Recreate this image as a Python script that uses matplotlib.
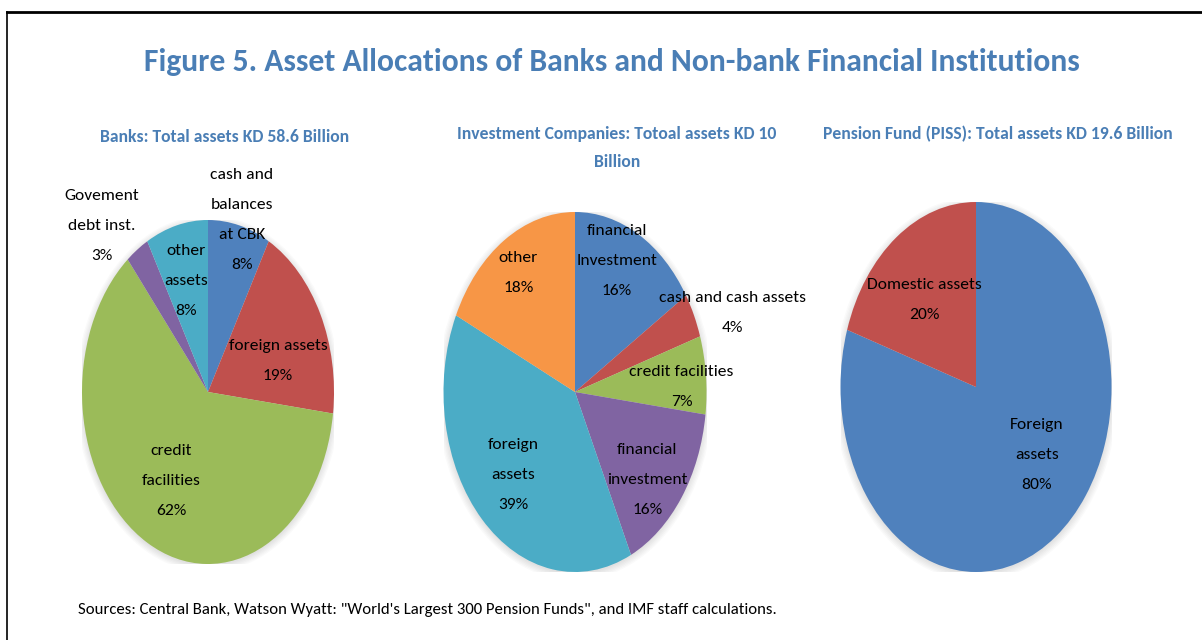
import numpy as np
import matplotlib
matplotlib.use('Agg')
import matplotlib.pyplot as plt
from matplotlib.lines import Line2D
from matplotlib.patches import Ellipse

plt.rcParams['font.family'] = ['Carlito', 'DejaVu Sans']

#########################################
# data
bank_labels = ['cash and\nbalances\nat CBK', 'foreign assets', 'credit\nfacilities',
               'Govement\ndebt inst.', 'other\nassets']
bank_values = [8, 19, 62, 3, 8]

inv_labels = ['financial\nInvestment', 'cash and cash assets', 'credit facilities',
              'financial\ninvestment', 'foreign\nassets', 'other']
inv_values = [16, 4, 7, 16, 39, 18]

pen_labels = ['Foreign\nassets', 'Domestic assets']
pen_values = [80, 20]

titles = ['Banks: Total assets KD 58.6 Billion',
          'Investment Companies: Totoal assets KD 10\nBillion',
          'Pension Fund (PISS): Total assets KD 19.6 Billion']

#########################################
# excel 2007 palette
colors = ['#4F81BD', '#C0504D', '#9BBB59', '#8064A2', '#4BACC6', '#F79646']
blue_txt = '#4A7EB5'

W, H = 1202, 640
fig = plt.figure(figsize=(W / 100, H / 100), dpi=100)

# label spots (x, y) in unit-pie coordinates
bank_pos = [(0.27, 1.0), (0.556, 0.18), (-0.29, -0.52), (-0.84, 0.965), (-0.175, 0.645)]
inv_pos = [(0.32, 0.73), (1.2, 0.44), (0.81, 0.03), (0.55, -0.49), (-0.47, -0.46), (-0.43, 0.66)]
pen_pos = [(0.45, -0.37), (-0.38, 0.47)]

# pie centres and radii in pixels
pies = [
    (208, 392, 126, 172, bank_values, bank_labels, bank_pos),
    (575, 392, 131.5, 180, inv_values, inv_labels, inv_pos),
    (976, 387, 135.5, 185, pen_values, pen_labels, pen_pos),
]

def MakePie(cx, cy, rx, ry, values, labels, pos):
    ax = fig.add_axes([(cx - rx) / W, (H - cy - ry) / H, 2 * rx / W, 2 * ry / H])
    # soft shadow
    for k in range(6):
        e = Ellipse((0.0, -0.01), 2 + 0.02 * k, 2 + 0.02 * k * rx / ry,
                    color='black', alpha=0.018, lw=0, zorder=0)
        ax.add_patch(e)
    ax.pie(values, colors=colors[:len(values)], startangle=90, counterclock=False,
           radius=1.0, wedgeprops=dict(linewidth=0))
    ax.set_aspect('auto')
    ax.set_xlim(-1, 1)
    ax.set_ylim(-1, 1)
    ax.axis('off')
    for lab, val, (px, py) in zip(labels, values, pos):
        ax.text(px, py, '{}\n{}%'.format(lab, val), ha='center', va='center',
                multialignment='center', fontsize=12.6, linespacing=2.45,
                color='black', clip_on=False)
    return ax

for p in pies:
    MakePie(*p)

fig.text(612 / W, 1 - 62 / H, 'Figure 5. Asset Allocations of Banks and Non-bank Financial Institutions',
         ha='center', va='center', fontsize=22.8, fontweight='bold', color=blue_txt)

sub_x = [225, 617, 998]
sub_y = [137, 148, 134]
for t, sx, sy in zip(titles, sub_x, sub_y):
    fig.text(sx / W, 1 - sy / H, t, ha='center', va='center', multialignment='center',
             fontsize=12.7, fontweight='bold', color=blue_txt, linespacing=1.9)

fig.text(78 / W, 1 - 610 / H,
         'Sources: Central Bank, Watson Wyatt: "World\'s Largest 300 Pension Funds", and IMF staff calculations.',
         ha='left', va='center', fontsize=12.1, color='black')

# frame lines
fig.add_artist(Line2D([7 / W, 1], [1 - 12 / H, 1 - 12 / H], color='black', lw=2))
fig.add_artist(Line2D([7 / W, 7 / W], [0, 1 - 12 / H], color='black', lw=1.2))

plt.savefig('out.png', dpi=100)
